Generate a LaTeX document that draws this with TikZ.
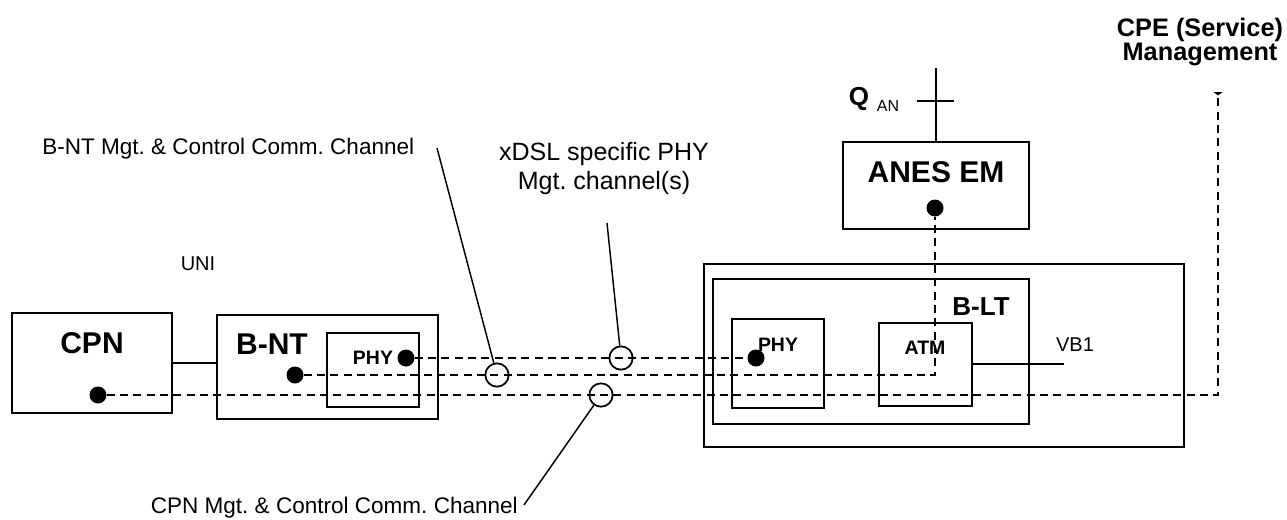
\documentclass[tikz,border=0pt]{standalone}
\usepackage{fontspec}
\setmainfont{Liberation Sans}
\usetikzlibrary{fit,calc}
\frenchspacing
\begin{document}
\begin{tikzpicture}[x=0.75pt,y=-0.75pt,
  box/.style={draw, line width=1.4pt, inner sep=0pt},
  dot/.style={circle, fill, inner sep=0pt, minimum size=12.75pt},
  ring/.style={circle, draw, line width=1.3pt, inner sep=0pt, minimum size=17.5pt},
  chan/.style={line width=1.4pt, dash pattern=on 6pt off 4pt},
  leader/.style={line width=1.1pt},
  thin/.style={line width=1.1pt},
  lbl/.style={inner sep=0pt, anchor=base},
  bigb/.style={font=\fontsize{22.5}{27}\selectfont\bfseries},
  midb/.style={font=\fontsize{19.5}{23}\selectfont\bfseries},
  smb/.style={font=\fontsize{14.6}{17}\selectfont\bfseries},
  txt/.style={font=\fontsize{16.9}{20}\selectfont},
  sml/.style={font=\fontsize{15}{18}\selectfont}]
\useasboundingbox (0,0) rectangle (1287,519);

% boxes
\node[box, fit={(12,313) (172,413)}] (cpn) {};
\node[box, fit={(217,315) (438,419)}] (bnt) {};
\node[box, fit={(327,333) (419,407)}] (phya) {};
\node[box, fit={(704,264) (1184,447)}] (outer) {};
\node[box, fit={(713,279) (1029,424)}] (blt) {};
\node[box, fit={(732,319) (824,408)}] (phyb) {};
\node[box, fit={(879,323) (972,406)}] (atm) {};
\node[box, fit={(843,142) (1029,229)}] (anes) {};

% box labels
\node[lbl, bigb] (cpnt) at (92,353) {CPN};
\node[lbl, bigb] (bntt) at (272,354) {B-NT};
\node[lbl, smb] (phyat) at (373,364) {PHY};
\node[lbl, smb] (phybt) at (778,351) {PHY};
\node[lbl, smb] (atmt) at (925,354) {ATM};
\node[lbl, midb] (bltt) at (981,315) {B-LT};
\node[lbl, bigb] (anest) at (936,182) {ANES EM};

% solid links
\draw[thin] (cpn.east) -- (cpn.east -| bnt.west);
\coordinate (vb1end) at (1064,364);
\draw[thin] (atm.east |- vb1end) -- (vb1end);
\node[lbl, sml] (vb1) at (1075,351) {VB1};
\node[lbl, sml] (uni) at (198,270) {UNI};

% Q_AN reference point
\coordinate (qtop) at (936,68);
\coordinate (qtl) at (917,101);
\coordinate (qtr) at (954,101);
\draw[thin] (anes.north -| qtop) -- (qtop);
\draw[thin] (qtl) -- (qtr);
\node[lbl, font=\fontsize{19.5}{23}\selectfont\bfseries] (q) at (859,105) {Q};
\node[lbl, font=\fontsize{12}{14}\selectfont] (an) at (888,111) {AN};

% CPE label
\node[inner sep=0pt, anchor=base, align=center, font=\fontsize{19}{18}\selectfont\bfseries] (cpe) at (1200,60) {CPE (Service)\\Management};
\coordinate (cpetop) at (1218,95);

% dots
\node[dot] (cpndot) at (98,395) {};
\node[dot] (bntdot) at (295,375) {};
\node[dot] (phyadot) at (406,358) {};
\node[dot] (phybdot) at (756,358) {};
\node[dot] (anesdot) at (935,208) {};

% dashed channels
\draw[chan] (phyadot) -- (phybdot);
\draw[chan] (bntdot) -- (bntdot -| anesdot) -- (anesdot);
\draw[chan] (cpndot) -- (cpndot -| cpetop) -- (cpetop);
\fill ($(cpetop)+(-4.5,-3)$) -- ($(cpetop)+(4.5,-3)$) -- ($(cpetop)+(0,0.5)$) -- cycle;

% rings
\node[ring] (ring1) at (497,375) {};
\node[ring] (ring2) at (621,358) {};
\node[ring] (ring3) at (601,395) {};

% leader labels
\node[lbl, txt, anchor=base west] (l1t) at (42,154) {B-NT Mgt. \& Control Comm. Channel};
\node[inner sep=0pt, anchor=base, align=center, font=\fontsize{18.75}{21.75}\selectfont] (l2t) at (604,189) {xDSL specific PHY\\Mgt. channel(s)};
\node[lbl, txt, anchor=base east] (l3t) at (518,513) {CPN Mgt. \& Control Comm. Channel};

\coordinate (l1s) at (437,148);
\coordinate (l2s) at (607,223);
\coordinate (l3s) at (524,505);
\draw[leader] (l1s) -- (ring1);
\draw[leader] (l2s) -- (ring2);
\draw[leader] (l3s) -- (ring3);
\end{tikzpicture}
\end{document}
